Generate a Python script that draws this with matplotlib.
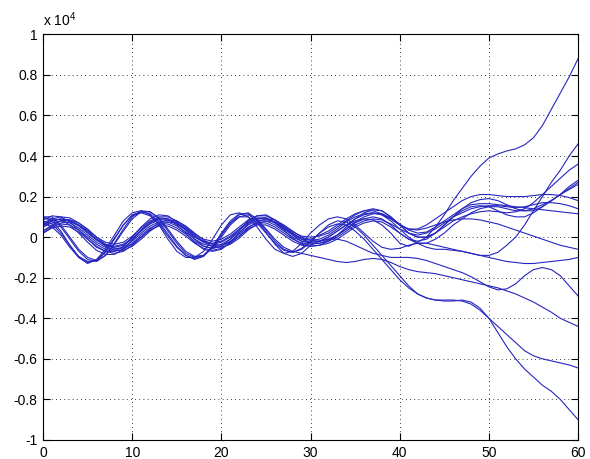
import matplotlib
matplotlib.use("Agg")
import matplotlib.pyplot as plt
import numpy as np

# x axis: 0 .. 60, one sample per unit
x = np.arange(0, 61)

# y values are in units of 1e4
y01 = [0.05,0.07,0.08,0.07,0.045,0.01,-0.025,-0.05,-0.06,-0.05,-0.02,0.02,0.055,0.075,0.075,0.055,0.025,-0.01,-0.035,-0.045,-0.035,-0.01,0.025,0.06,0.08,0.08,0.06,0.03,0.0,-0.02,-0.025,
       -0.02,0.0,0.03,0.06,0.08,0.09,0.085,0.06,0.02,-0.03,-0.045,-0.025,0.0,0.05,0.11,0.18,0.24,0.3,0.35,0.39,0.41,0.425,0.435,0.455,0.49,0.55,0.63,0.71,0.79,0.88]
y02 = [0.03,0.06,0.08,0.085,0.07,0.04,0.0,-0.035,-0.055,-0.055,-0.035,0.0,0.04,0.07,0.085,0.08,0.055,0.02,-0.015,-0.035,-0.04,-0.025,0.005,0.045,0.075,0.09,0.085,0.06,0.03,0.0,-0.015,
       -0.01,0.01,0.04,0.075,0.1,0.115,0.12,0.11,0.08,0.04,0.0,-0.03,-0.05,-0.06,-0.06,-0.065,-0.07,-0.08,-0.09,-0.09,-0.075,-0.04,0.0,0.06,0.13,0.2,0.27,0.33,0.4,0.46]
y03 = [0.07,0.09,0.085,0.06,0.02,-0.025,-0.065,-0.085,-0.085,-0.06,-0.015,0.035,0.075,0.095,0.09,0.06,0.02,-0.025,-0.06,-0.07,-0.06,-0.025,0.02,0.065,0.09,0.095,0.07,0.035,-0.005,-0.035,-0.045,
       -0.04,-0.02,0.01,0.05,0.09,0.12,0.135,0.13,0.1,0.06,0.02,0.0,0.0,0.02,0.05,0.08,0.1,0.115,0.125,0.13,0.125,0.12,0.125,0.14,0.17,0.21,0.25,0.29,0.33,0.36]
y04 = [0.06,0.09,0.1,0.095,0.07,0.035,0.0,-0.025,-0.035,-0.025,0.005,0.045,0.08,0.1,0.1,0.08,0.05,0.015,-0.01,-0.02,-0.01,0.015,0.05,0.085,0.105,0.105,0.085,0.055,0.025,0.005,0.0,
       0.005,0.02,0.05,0.08,0.11,0.13,0.14,0.13,0.1,0.06,0.02,0.0,0.0,0.02,0.06,0.1,0.14,0.17,0.185,0.19,0.18,0.16,0.14,0.13,0.13,0.15,0.18,0.21,0.25,0.28]
y05 = [0.06,0.08,0.09,0.08,0.055,0.02,-0.015,-0.04,-0.05,-0.04,-0.01,0.03,0.065,0.085,0.085,0.065,0.035,0.0,-0.025,-0.035,-0.025,0.0,0.035,0.07,0.09,0.09,0.07,0.04,0.01,-0.01,-0.015,
       -0.02,-0.01,0.01,0.04,0.07,0.09,0.1,0.09,0.06,0.02,-0.01,-0.02,-0.01,0.02,0.06,0.1,0.13,0.15,0.155,0.15,0.13,0.11,0.1,0.1,0.12,0.15,0.18,0.21,0.24,0.27]
y06 = [0.02,0.045,0.055,0.05,0.025,-0.01,-0.045,-0.07,-0.08,-0.07,-0.04,0.0,0.035,0.055,0.055,0.035,0.005,-0.03,-0.055,-0.065,-0.055,-0.03,0.005,0.04,0.06,0.06,0.04,0.01,-0.02,-0.04,-0.045,
       -0.04,-0.03,-0.01,0.02,0.05,0.07,0.08,0.075,0.05,0.02,-0.01,-0.03,-0.03,-0.01,0.02,0.06,0.09,0.12,0.14,0.15,0.15,0.14,0.13,0.13,0.14,0.16,0.18,0.21,0.235,0.26]
y07 = [0.02,0.05,0.07,0.075,0.06,0.03,-0.01,-0.045,-0.065,-0.065,-0.045,-0.01,0.03,0.06,0.075,0.07,0.045,0.01,-0.025,-0.045,-0.05,-0.035,-0.005,0.035,0.065,0.08,0.075,0.05,0.02,-0.01,-0.025,
       -0.02,0.0,0.03,0.06,0.09,0.11,0.12,0.11,0.09,0.06,0.04,0.04,0.06,0.09,0.12,0.15,0.18,0.2,0.21,0.21,0.205,0.2,0.2,0.2,0.205,0.21,0.21,0.205,0.195,0.18]
y08 = [0.03,0.055,0.065,0.06,0.035,0.0,-0.035,-0.06,-0.07,-0.06,-0.03,0.01,0.045,0.065,0.065,0.045,0.015,-0.02,-0.045,-0.055,-0.045,-0.02,0.015,0.05,0.07,0.07,0.05,0.02,-0.01,-0.03,-0.035,
       -0.03,-0.02,0.0,0.03,0.06,0.08,0.09,0.085,0.065,0.04,0.02,0.01,0.02,0.04,0.07,0.1,0.12,0.14,0.15,0.155,0.155,0.15,0.145,0.15,0.16,0.17,0.17,0.165,0.155,0.14]
y09 = [0.085,0.105,0.1,0.075,0.035,-0.01,-0.05,-0.07,-0.07,-0.045,0.0,0.05,0.09,0.11,0.105,0.075,0.035,-0.01,-0.045,-0.055,-0.045,-0.01,0.035,0.08,0.105,0.11,0.085,0.05,0.01,-0.02,-0.03,
       -0.03,-0.015,0.01,0.04,0.075,0.1,0.115,0.115,0.095,0.065,0.035,0.02,0.025,0.05,0.08,0.11,0.14,0.16,0.165,0.165,0.16,0.155,0.15,0.145,0.14,0.135,0.13,0.125,0.12,0.115]
y10 = [0.05,0.08,0.09,0.085,0.06,0.025,-0.01,-0.035,-0.045,-0.035,-0.005,0.035,0.07,0.09,0.09,0.07,0.04,0.005,-0.02,-0.03,-0.02,0.005,0.04,0.075,0.095,0.095,0.075,0.045,0.015,-0.005,-0.01,
       0.01,0.03,0.06,0.09,0.115,0.13,0.13,0.115,0.09,0.06,0.04,0.035,0.045,0.06,0.075,0.085,0.09,0.09,0.085,0.075,0.065,0.05,0.035,0.02,0.005,-0.01,-0.025,-0.04,-0.05,-0.06]
y11 = [0.1,0.08,0.03,-0.04,-0.1,-0.13,-0.11,-0.06,0.01,0.08,0.12,0.13,0.11,0.06,-0.01,-0.07,-0.1,-0.1,-0.07,-0.01,0.06,0.11,0.12,0.1,0.05,-0.01,-0.06,-0.08,-0.07,-0.03,0.02,
       0.06,0.09,0.1,0.09,0.06,0.02,-0.02,-0.05,-0.06,-0.055,-0.04,-0.03,-0.03,-0.04,-0.05,-0.06,-0.07,-0.08,-0.09,-0.1,-0.11,-0.12,-0.125,-0.13,-0.13,-0.125,-0.12,-0.115,-0.11,-0.1]
y12 = [0.08,0.065,0.02,-0.04,-0.095,-0.12,-0.115,-0.075,-0.01,0.06,0.11,0.125,0.115,0.075,0.015,-0.045,-0.09,-0.11,-0.095,-0.05,0.02,0.08,0.115,0.115,0.08,0.025,-0.035,-0.08,-0.095,-0.08,-0.04,
       -0.02,-0.01,-0.01,-0.02,-0.04,-0.06,-0.08,-0.09,-0.1,-0.1,-0.1,-0.105,-0.115,-0.13,-0.145,-0.16,-0.175,-0.195,-0.22,-0.245,-0.26,-0.255,-0.23,-0.19,-0.16,-0.15,-0.16,-0.19,-0.24,-0.29]
y13 = [0.09,0.09,0.05,-0.01,-0.07,-0.11,-0.12,-0.09,-0.03,0.04,0.1,0.13,0.125,0.09,0.03,-0.03,-0.08,-0.1,-0.09,-0.05,0.01,0.07,0.11,0.12,0.09,0.04,
       -0.01,-0.05,-0.07,-0.08,-0.09,-0.1,-0.11,-0.12,-0.125,-0.12,-0.11,-0.105,-0.11,-0.125,-0.145,-0.16,-0.17,-0.175,-0.18,-0.19,-0.2,-0.21,-0.22,-0.23,-0.24,-0.25,-0.265,-0.28,-0.3,-0.32,-0.345,-0.37,-0.4,-0.42,-0.44]
y14 = [0.1,0.1,0.06,0.0,-0.06,-0.1,-0.115,-0.09,-0.035,0.03,0.09,0.125,0.125,0.095,0.04,-0.02,-0.07,-0.095,-0.09,-0.055,0.0,0.06,0.1,0.11,0.085,0.035,-0.02,
       -0.06,-0.075,-0.06,-0.025,0.02,0.06,0.08,0.075,0.05,0.01,-0.04,-0.09,-0.14,-0.19,-0.24,-0.28,-0.3,-0.31,-0.31,-0.31,-0.315,-0.33,-0.36,-0.4,-0.44,-0.48,-0.52,-0.56,-0.585,-0.6,-0.61,-0.62,-0.63,-0.645]
y15 = [0.07,0.05,0.01,-0.05,-0.1,-0.125,-0.115,-0.07,-0.005,0.06,0.105,0.12,0.105,0.065,0.005,-0.05,-0.09,-0.105,-0.09,-0.045,0.015,0.07,0.1,0.1,0.07,0.02,-0.03,
       -0.065,-0.075,-0.055,-0.02,0.02,0.05,0.065,0.06,0.03,-0.01,-0.06,-0.11,-0.16,-0.21,-0.25,-0.28,-0.3,-0.31,-0.315,-0.315,-0.31,-0.32,-0.35,-0.4,-0.47,-0.54,-0.6,-0.65,-0.69,-0.73,-0.76,-0.8,-0.85,-0.9]

series = [y01, y02, y03, y04, y05, y06, y07, y08, y09, y10, y11, y12, y13, y14, y15]

xticks = [0, 10, 20, 30, 40, 50, 60]
yticks = [-1, -0.8, -0.6, -0.4, -0.2, 0, 0.2, 0.4, 0.6, 0.8, 1]
ytick_labels = ["-1", "-0.8", "-0.6", "-0.4", "-0.2", "0", "0.2", "0.4", "0.6", "0.8", "1"]

plt.rcParams["font.family"] = ["Liberation Sans", "DejaVu Sans"]
plt.rcParams["mathtext.default"] = "regular"

fig = plt.figure(figsize=(5.9, 4.59), dpi=100)
ax = fig.add_axes([0.073, 0.0414, 0.9068, 0.8839])

for ys in series:
    ax.plot(x, ys, color=(0.15, 0.15, 0.75), linewidth=0.8)

ax.set_xlim(0, 60)
ax.set_ylim(-1, 1)
ax.set_xticks(xticks)
ax.set_yticks(yticks)
ax.set_yticklabels(ytick_labels)
ax.tick_params(direction="in", length=5, width=0.8, top=True, right=True,
               labelsize=10, pad=4)
ax.grid(True, color="k", linestyle=(0, (1, 4)), linewidth=0.6)
for s in ax.spines.values():
    s.set_linewidth(0.8)

ax.text(0.0, 1.012, "x 10$^{4}$", transform=ax.transAxes, fontsize=10,
        ha="left", va="bottom")

fig.savefig("out.png", dpi=100)
